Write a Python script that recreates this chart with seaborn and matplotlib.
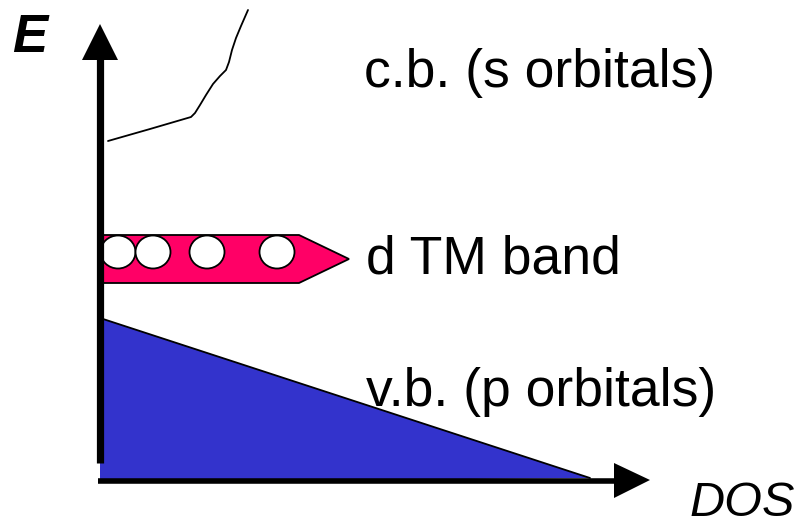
import matplotlib
matplotlib.use("Agg")
import matplotlib.pyplot as plt
import seaborn as sns
import pandas as pd
from matplotlib.patches import Ellipse, Polygon

sns.set_theme(style="white")
plt.rcParams['font.family'] = ['Liberation Sans', 'DejaVu Sans']
plt.rcParams['text.color'] = 'black'

# Schematic data (pixel-like coordinates, y grows downward)
cb_x = [108, 150, 191, 195, 200, 206, 213, 220, 226, 229, 232, 236, 241, 248]
cb_y = [141, 129, 117, 113, 105, 95, 84, 76, 70, 62, 50, 38, 26, 10]

vb_x = [100, 100, 590]
vb_y = [318, 482, 478]

dband_x = [100, 299, 349, 299, 100]
dband_y = [235, 235, 259, 283, 283]

hole_x = [118, 153, 207, 277]
hole_y = [252, 252, 252, 252]

labels = ["c.b. (s orbitals)", "d TM band", "v.b. (p orbitals)"]
label_x = [364, 366, 366]
label_y = [73, 260, 392]

fig = plt.figure(figsize=(8.09, 5.27), dpi=100)
ax = fig.add_axes([0, 0, 1, 1])

# valence band
ax.add_patch(Polygon(list(zip(vb_x, vb_y)), closed=True, facecolor="#3333CC",
                     edgecolor="none", zorder=2))
ax.plot([vb_x[0], vb_x[2]], [vb_y[0], vb_y[2]], color="black", lw=1.3, zorder=3)

# d band
ax.add_patch(Polygon(list(zip(dband_x, dband_y)), closed=True, facecolor="#FF0066",
                     edgecolor="black", lw=1.3, zorder=2))
for hx, hy in zip(hole_x, hole_y):
    ax.add_patch(Ellipse((hx, hy), 35, 33, facecolor="white", edgecolor="black",
                         lw=1.3, zorder=4))

# conduction band curve
df = pd.DataFrame({"x": cb_x, "y": cb_y})
sns.lineplot(data=df, x="x", y="y", sort=False, color="black", lw=1.3, ax=ax,
             estimator=None)
ax.set_xlim(0, 809)
ax.set_ylim(527, 0)
ax.axis("off")

# axes arrows
ax.plot([100, 100], [463, 58], color="black", lw=5.2, solid_capstyle="butt", zorder=5)
ax.add_patch(Polygon([(82, 60), (118, 60), (100, 24)], closed=True,
                     facecolor="black", edgecolor="none", zorder=5))
ax.plot([98, 616], [481, 481], color="black", lw=4.0, solid_capstyle="butt", zorder=5)
ax.add_patch(Polygon([(614, 463), (614, 498), (650, 480)], closed=True,
                     facecolor="black", edgecolor="none", zorder=5))

# texts
for t, x, y in zip(labels, label_x, label_y):
    ax.text(x, y, t, fontsize=38.5, ha="left", va="center", color="black")
ax.text(12, 38, "E", fontsize=38, fontweight="bold", fontstyle="italic",
        ha="left", va="center", color="black")
ax.text(690, 526, "DOS", fontsize=35, fontstyle="italic", ha="left", va="bottom",
        color="black")

fig.savefig("out.png", dpi=100)
